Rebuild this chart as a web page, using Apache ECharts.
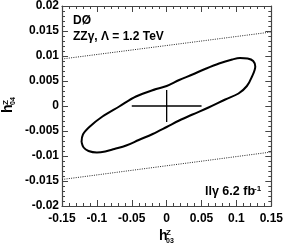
<!DOCTYPE html>
<html><head><meta charset="utf-8">
<script src="https://cdn.jsdelivr.net/npm/echarts@6/dist/echarts.min.js"></script>
<style>html,body{margin:0;padding:0;background:#fff}#c{width:286px;height:245px}</style>
</head><body><div id="c"></div>
<script>
// 95% CL contour in (h03Z, h04Z)
const contourH03 = [-0.122,-0.119,-0.112,-0.100,-0.088,-0.075,-0.058,-0.040,-0.020,0.000,0.018,0.037,0.060,0.084,0.103,0.115,0.122,0.127,0.124,0.116,0.105,0.094,0.075,0.055,0.037,0.018,0.000,-0.015,-0.044,-0.068,-0.092,-0.110,-0.120,-0.122];
const contourH04 = [-0.0072,-0.0083,-0.0090,-0.0093,-0.0091,-0.0086,-0.0079,-0.0068,-0.0056,-0.0042,-0.0029,-0.0017,-0.0003,0.0013,0.0025,0.0040,0.0058,0.0079,0.0090,0.0095,0.0096,0.0093,0.0085,0.0074,0.0063,0.0052,0.0040,0.0034,0.0019,-0.0001,-0.0021,-0.0041,-0.0057,-0.0072];
// SM point cross (1D limits)
const crossH = [[-0.05, 0], [0.05, 0]];
const crossV = [[0, -0.0032], [0, 0.0032]];
// dotted bounds
const upperBound = [[-0.15, 0.0094], [0.15, 0.0148]];
const lowerBound = [[-0.15, -0.0147], [0.15, -0.0092]];
const xRange = [-0.15, 0.15], xStep = 0.05;
const yRange = [-0.02, 0.02], yStep = 0.005;

const contour = contourH03.map((x, i) => [x, contourH04[i]]);
const FONT = '"Liberation Sans", Arial, Helvetica, sans-serif';
const axisCol = '#444';

function mkAxis(kind, pos, labels) {
  const r = kind === 'x' ? xRange : yRange;
  const st = kind === 'x' ? xStep : yStep;
  return {
    type: 'value', position: pos, min: r[0], max: r[1], interval: st,
    axisLine: { show: true, onZero: false, lineStyle: { color: axisCol, width: 1.2 } },
    axisTick: { show: true, inside: true, length: 6, lineStyle: { color: axisCol, width: 1 } },
    minorTick: { show: true, splitNumber: 5, length: 3, lineStyle: { color: axisCol, width: 1 } },
    splitLine: { show: false }, minorSplitLine: { show: false },
    axisLabel: labels ? {
      show: true, color: '#000', fontFamily: FONT, fontWeight: 'bold', fontSize: 12,
      margin: kind === 'x' ? 7 : 3, showMinLabel: true, showMaxLabel: true
    } : { show: false }
  };
}

const chart = echarts.init(document.getElementById('c'), null, { renderer: 'canvas' });
const txt = (x, y, s, size, extra) => ({
  type: 'text', x: x, y: y,
  style: Object.assign({ text: s, fill: '#000', font: 'bold ' + size + 'px ' + FONT, verticalAlign: 'bottom' }, extra || {})
});

chart.setOption({
  animation: false,
  grid: { left: 62, right: 13, top: 6, bottom: 39 },
  xAxis: [mkAxis('x', 'bottom', true), mkAxis('x', 'top', false)],
  yAxis: [mkAxis('y', 'left', true), mkAxis('y', 'right', false)],
  series: [
    { type: 'line', data: contour, smooth: 0.35, symbol: 'none', lineStyle: { color: '#000', width: 2 } },
    { type: 'line', data: crossH, symbol: 'none', lineStyle: { color: '#000', width: 1.3 } },
    { type: 'line', data: crossV, symbol: 'none', lineStyle: { color: '#000', width: 1.3 } },
    { type: 'line', data: upperBound, symbol: 'none', lineStyle: { color: '#222', width: 1, type: [1, 1.3] } },
    { type: 'line', data: lowerBound, symbol: 'none', lineStyle: { color: '#222', width: 1, type: [1, 1.3] } }
  ],
  graphic: [
    txt(73, 27, 'DØ', 12),
    txt(73, 43, 'ZZγ, Λ = 1.2 TeV', 12),
    txt(205, 198, 'llγ 6.2 fb', 12.5),
    txt(254, 193, '-1', 8),
    // x axis title h^Z_03
    txt(159, 243, 'h', 14),
    txt(166, 237, 'Z', 8),
    txt(166, 245, '03', 7),
    // y axis title h^Z_04 (rotated)
    { type: 'group', x: 15, y: 113, rotation: Math.PI / 2, children: [
      txt(0, 0, 'h', 14),
      txt(8, -5, 'Z', 8),
      txt(8, 2, '04', 7)
    ] }
  ]
});
</script>
</body></html>
